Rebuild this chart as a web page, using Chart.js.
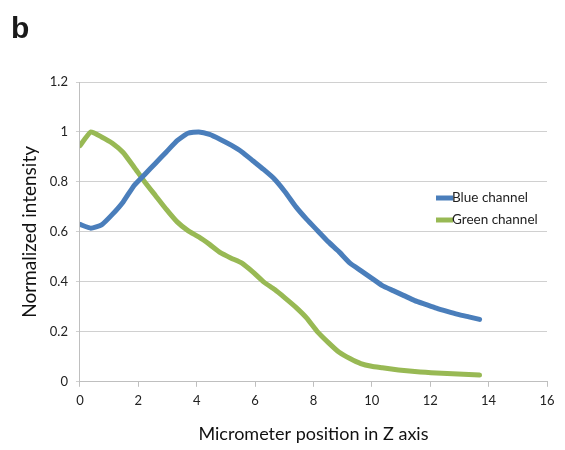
<!DOCTYPE html>
<html>
<head>
<meta charset="utf-8">
<script src="https://cdn.jsdelivr.net/npm/chart.js@4.4.0/dist/chart.umd.min.js"></script>
<style>
    body { margin: 0; background: #fff; }
    #wrap { position: relative; width: 565px; height: 450px; }
</style>
</head>
<body>
<div id="wrap"><canvas id="profileChart" width="565" height="450"></canvas></div>
<script>
// Z positions (micrometer)
const zPositions = [0, 0.37, 0.74, 1.11, 1.48, 1.85, 2.22, 2.59, 2.96, 3.33, 3.70, 4.07, 4.44, 4.81, 5.18,
    5.55, 5.92, 6.29, 6.66, 7.03, 7.40, 7.77, 8.14, 8.51, 8.88, 9.25, 9.62, 9.99, 10.36, 10.73, 11.10,
    11.47, 11.84, 12.21, 12.58, 12.95, 13.32, 13.69];

const blueChannel = [0.63, 0.615, 0.628, 0.67, 0.72, 0.785, 0.83, 0.875, 0.92, 0.965, 0.995, 1.0, 0.99,
    0.97, 0.947, 0.92, 0.885, 0.85, 0.812, 0.76, 0.70, 0.65, 0.605, 0.56, 0.52, 0.475, 0.445, 0.415,
    0.385, 0.365, 0.345, 0.325, 0.31, 0.295, 0.282, 0.27, 0.26, 0.25];

const greenChannel = [0.945, 1.0, 0.98, 0.955, 0.918, 0.86, 0.8, 0.745, 0.69, 0.64, 0.605, 0.58, 0.55,
    0.517, 0.495, 0.475, 0.44, 0.40, 0.37, 0.335, 0.298, 0.255, 0.2, 0.157, 0.118, 0.093, 0.073, 0.062,
    0.056, 0.05, 0.045, 0.041, 0.038, 0.035, 0.033, 0.031, 0.029, 0.027];

const yTickLabels = ['0', '0.2', '0.4', '0.6', '0.8', '1', '1.2'];

const seriesNames = ['Blue channel', 'Green channel'];
const seriesColors = ['#4a7ebb', '#98b954'];

const fontFamily = 'Lato, "Open Sans", sans-serif';

function toPoints(values) {
    return values.map((v, i) => ({ x: zPositions[i], y: v }));
}

// panel letter + legend drawn on top of the plot
const overlayPlugin = {
    id: 'overlay',
    afterDraw(chart) {
        const ctx = chart.ctx;
        ctx.save();
        ctx.fillStyle = '#1a1a1a';
        ctx.font = 'bold 30px "Liberation Sans", Arial, sans-serif';
        ctx.textBaseline = 'alphabetic';
        ctx.fillText('b', 11, 38);

        ctx.font = '13.5px ' + fontFamily;
        ctx.textBaseline = 'middle';
        chart.data.datasets.forEach((ds, i) => {
            const y = 198 + i * 22;
            ctx.strokeStyle = ds.borderColor;
            ctx.lineWidth = 5;
            ctx.lineCap = 'butt';
            ctx.beginPath();
            ctx.moveTo(436, y);
            ctx.lineTo(453, y);
            ctx.stroke();
            ctx.fillStyle = '#222';
            ctx.fillText(ds.label, 452, y);
        });
        ctx.restore();
    }
};

const ctx = document.getElementById('profileChart').getContext('2d');
new Chart(ctx, {
    type: 'line',
    data: {
        datasets: [{
            label: seriesNames[0],
            data: toPoints(blueChannel),
            borderColor: seriesColors[0],
            borderWidth: 5,
            pointRadius: 0,
            tension: 0.15,
            borderCapStyle: 'round',
            fill: false
        }, {
            label: seriesNames[1],
            data: toPoints(greenChannel),
            borderColor: seriesColors[1],
            borderWidth: 5,
            pointRadius: 0,
            tension: 0.15,
            borderCapStyle: 'round',
            fill: false
        }]
    },
    options: {
        responsive: false,
        animation: false,
        layout: { padding: { left: 18, right: 18, top: 82, bottom: 5 } },
        scales: {
            x: {
                type: 'linear',
                min: 0,
                max: 16,
                ticks: { stepSize: 2, color: '#222', font: { family: fontFamily, size: 13 }, padding: 6 },
                grid: { drawOnChartArea: false, drawTicks: true, tickLength: 5, color: '#bfbfbf' },
                border: { color: '#bfbfbf' },
                title: {
                    display: true,
                    text: 'Micrometer position in Z axis',
                    color: '#111',
                    font: { family: fontFamily, size: 18 },
                    padding: { top: 9, bottom: 0 }
                }
            },
            y: {
                min: 0,
                max: 1.2,
                ticks: {
                    stepSize: 0.2,
                    color: '#222',
                    font: { family: fontFamily, size: 13 },
                    padding: 8,
                    callback: (v, i) => yTickLabels[i]
                },
                grid: { color: '#d0d0d0', tickLength: 4 },
                border: { color: '#bfbfbf' },
                title: {
                    display: true,
                    text: 'Normalized intensity',
                    color: '#111',
                    font: { family: fontFamily, size: 19 },
                    padding: { top: 0, bottom: 1 }
                }
            }
        },
        plugins: {
            legend: { display: false },
            tooltip: { enabled: false }
        }
    },
    plugins: [overlayPlugin]
});
</script>
</body>
</html>
